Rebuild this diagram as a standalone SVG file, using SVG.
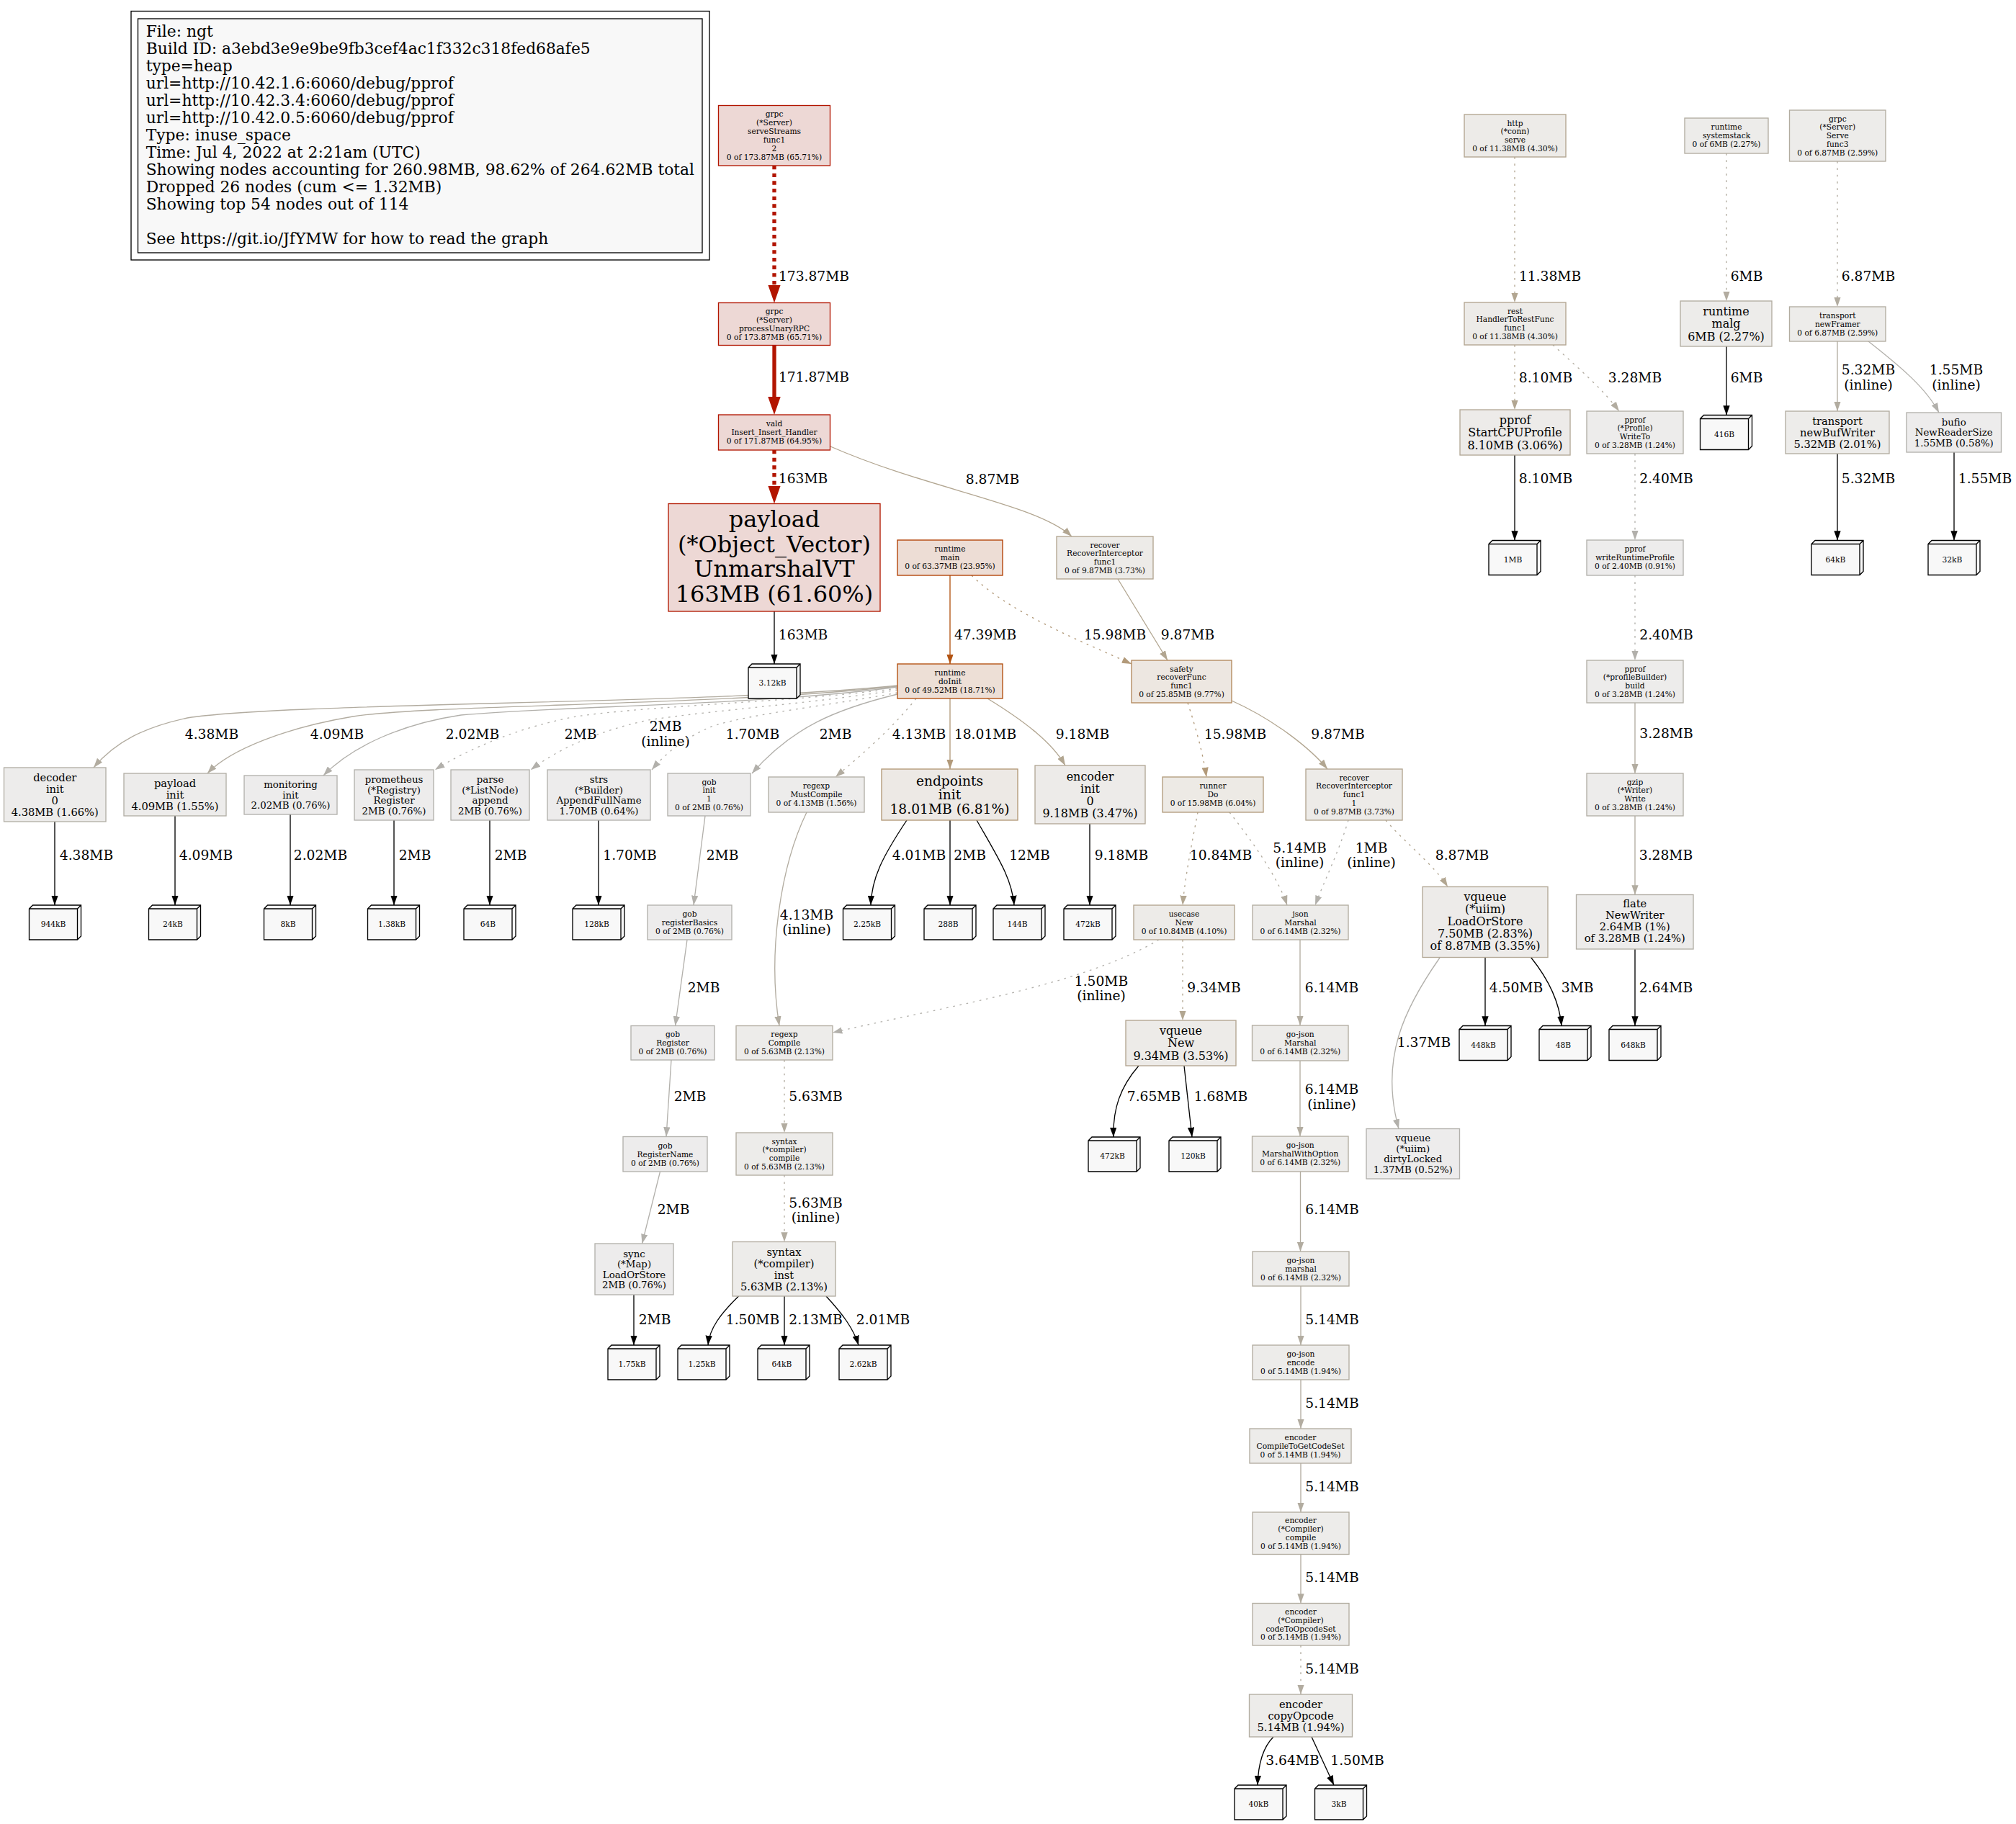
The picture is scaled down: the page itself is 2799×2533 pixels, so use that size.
<svg xmlns="http://www.w3.org/2000/svg" width="2799" height="2533" viewBox="0 0 2799 2533">
<style>
text{font-family:"DejaVu Serif",serif;text-anchor:middle;fill:#000}
.f8{font-size:10.67px}.f10{font-size:13.33px}.f11{font-size:14.67px}.f12{font-size:16px}.f14{font-size:18.67px}.f24{font-size:32px}
.el{font-size:18.67px}
.leg{font-size:21.8px;text-anchor:start}
.node rect{stroke-width:1.33}
.leaf use{fill:#f8f8f8;stroke:#000;stroke-width:1.33}
.c1{fill:#edd8d5;stroke:#b21500}.c2{fill:#edddd5;stroke:#b23e00}.c3{fill:#eddfd6;stroke:#b24d0b}.c4{fill:#ede7e1;stroke:#b2875b}
.c5{fill:#ede9e5;stroke:#b29775}.c6{fill:#edeae5;stroke:#b29b7c}.c7{fill:#edebe8;stroke:#b2a48f}.c8{fill:#edebe9;stroke:#b2a795}
.c9{fill:#edecea;stroke:#b2aca0}.c10{fill:#edeceb;stroke:#b2aea5}.c11{fill:#edecec;stroke:#b2b0ab}
#edges path{fill:none;stroke-width:1.33}
#edges .dot{stroke-dasharray:2.67,6.67}
#edges .thick{stroke-width:5.33}
#edges .thick.dot{stroke-dasharray:5.33,5.33}
.k{stroke:#000}.r{stroke:#b21500}.o{stroke:#b25312}.t{stroke:#b29a7a}.b{stroke:#b2a691}.g{stroke:#b2aca0}.l{stroke:#b2b0ab}
</style>
<defs>
<path id="b3d" d="M0,5l5,-5h67v43l-5,5h-67zM0,5h67v43M67,5l5,-5"/>
<marker id="mR" markerUnits="userSpaceOnUse" markerWidth="25" markerHeight="17.5" viewBox="0 0 25 17.5" refX="0" refY="8.75" orient="auto"><path d="M0,0L25,8.75L0,17.5z" fill="#b21500"/></marker>
<marker id="mK" markerUnits="userSpaceOnUse" markerWidth="13.3" markerHeight="9.33" viewBox="0 0 13.3 9.33" refX="13.3" refY="4.67" orient="auto"><path d="M0,0L13.3,4.67L0,9.33z" fill="#000"/></marker>
<marker id="mO" markerUnits="userSpaceOnUse" markerWidth="13.3" markerHeight="9.33" viewBox="0 0 13.3 9.33" refX="13.3" refY="4.67" orient="auto"><path d="M0,0L13.3,4.67L0,9.33z" fill="#b25312"/></marker>
<marker id="mT" markerUnits="userSpaceOnUse" markerWidth="13.3" markerHeight="9.33" viewBox="0 0 13.3 9.33" refX="13.3" refY="4.67" orient="auto"><path d="M0,0L13.3,4.67L0,9.33z" fill="#b29a7a"/></marker>
<marker id="mB" markerUnits="userSpaceOnUse" markerWidth="13.3" markerHeight="9.33" viewBox="0 0 13.3 9.33" refX="13.3" refY="4.67" orient="auto"><path d="M0,0L13.3,4.67L0,9.33z" fill="#b2a691"/></marker>
<marker id="mG" markerUnits="userSpaceOnUse" markerWidth="13.3" markerHeight="9.33" viewBox="0 0 13.3 9.33" refX="13.3" refY="4.67" orient="auto"><path d="M0,0L13.3,4.67L0,9.33z" fill="#b2aca0"/></marker>
<marker id="mL" markerUnits="userSpaceOnUse" markerWidth="13.3" markerHeight="9.33" viewBox="0 0 13.3 9.33" refX="13.3" refY="4.67" orient="auto"><path d="M0,0L13.3,4.67L0,9.33z" fill="#b2b0ab"/></marker>
</defs>
<rect width="2799" height="2533" fill="#fff"/>

<g id="legend">
<rect x="182" y="15.5" width="803" height="345.5" fill="none" stroke="#000" stroke-width="1.33"/>
<rect x="191.5" y="26" width="783.5" height="325" fill="#f8f8f8" stroke="#000" stroke-width="1.33"/>
<text class="leg"><tspan x="202.7" y="50.5">File: ngt</tspan><tspan x="202.7" y="74.5">Build ID: a3ebd3e9e9be9fb3cef4ac1f332c318fed68afe5</tspan><tspan x="202.7" y="98.5">type=heap</tspan><tspan x="202.7" y="122.5">url=http://10.42.1.6:6060/debug/pprof</tspan><tspan x="202.7" y="146.5">url=http://10.42.3.4:6060/debug/pprof</tspan><tspan x="202.7" y="170.5">url=http://10.42.0.5:6060/debug/pprof</tspan><tspan x="202.7" y="194.5">Type: inuse_space</tspan><tspan x="202.7" y="218.5">Time: Jul 4, 2022 at 2:21am (UTC)</tspan><tspan x="202.7" y="242.5">Showing nodes accounting for 260.98MB, 98.62% of 264.62MB total</tspan><tspan x="202.7" y="266.5">Dropped 26 nodes (cum &lt;= 1.32MB)</tspan><tspan x="202.7" y="290.5">Showing top 54 nodes out of 114</tspan><tspan x="202.7" y="338.5">See https://git.io/JfYMW for how to read the graph</tspan></text>
</g>

<g id="edges">
<path class="r thick dot" d="M1075,230V395.5" marker-end="url(#mR)"/><text class="el" x="1130" y="389.7">173.87MB</text>
<path class="r thick" d="M1075,479.5V551" marker-end="url(#mR)"/><text class="el" x="1130" y="530.2">171.87MB</text>
<path class="r thick dot" d="M1075,625V674.5" marker-end="url(#mR)"/><text class="el" x="1115" y="670.7">163MB</text>
<path class="b" d="M1153,620C1290,680 1440,700 1488,745" marker-end="url(#mB)"/><text class="el" x="1378" y="671.7">8.87MB</text>
<path class="k" d="M1075,849V922" marker-end="url(#mK)"/><text class="el" x="1115" y="887.7">163MB</text>
<path class="o" d="M1319,799V922" marker-end="url(#mO)"/><text class="el" x="1368" y="887.7">47.39MB</text>
<path class="t dot" d="M1349,799C1400,850 1500,890 1571,922" marker-end="url(#mT)"/><text class="el" x="1548" y="887.7">15.98MB</text>
<path class="b" d="M1552,804L1621,917" marker-end="url(#mB)"/><text class="el" x="1649" y="887.7">9.87MB</text>

<path class="g" d="M1246,952C1000,978 400,975 260,997C200,1010 160,1030 130,1066" marker-end="url(#mG)"/><text class="el" x="294" y="1025.7">4.38MB</text>
<path class="g" d="M1246,953C1000,980 600,978 490,995C400,1010 320,1040 288,1074" marker-end="url(#mG)"/><text class="el" x="468" y="1025.7">4.09MB</text>
<path class="l" d="M1246,954C1050,980 780,980 640,993C560,1005 490,1035 449,1077" marker-end="url(#mL)"/><text class="el" x="656" y="1025.7">2.02MB</text>
<path class="l dot" d="M1246,956C1100,975 900,980 800,995C720,1010 650,1040 604,1069" marker-end="url(#mL)"/><text class="el" x="806" y="1025.7">2MB</text>
<path class="l dot" d="M1246,958C1120,978 1000,985 900,1000C830,1015 775,1040 737,1069" marker-end="url(#mL)"/><text class="el" x="924" y="1014.7">2MB</text><text class="el" x="924" y="1035.7">(inline)</text>
<path class="l dot" d="M1246,962C1150,980 1050,990 990,1008C950,1025 925,1045 905,1069" marker-end="url(#mL)"/><text class="el" x="1045" y="1025.7">1.70MB</text>
<path class="l" d="M1246,964C1160,985 1100,1010 1044,1074" marker-end="url(#mL)"/><text class="el" x="1160" y="1025.7">2MB</text>
<path class="g dot" d="M1272,970C1240,1010 1200,1045 1160,1079" marker-end="url(#mG)"/><text class="el" x="1276" y="1025.7">4.13MB</text>
<path class="t" d="M1319,970V1068" marker-end="url(#mT)"/><text class="el" x="1368" y="1025.7">18.01MB</text>
<path class="b" d="M1371,970C1420,1000 1460,1030 1479,1063" marker-end="url(#mB)"/><text class="el" x="1503" y="1025.7">9.18MB</text>
<path class="t dot" d="M1649,976C1660,1010 1670,1045 1675,1079" marker-end="url(#mT)"/><text class="el" x="1715" y="1025.7">15.98MB</text>
<path class="b" d="M1710,973C1770,1000 1820,1040 1843,1068" marker-end="url(#mB)"/><text class="el" x="1857.5" y="1025.7">9.87MB</text>

<path class="k" d="M76,1141V1257" marker-end="url(#mK)"/><text class="el" x="120" y="1193.7">4.38MB</text>
<path class="k" d="M243,1133V1257" marker-end="url(#mK)"/><text class="el" x="286" y="1193.7">4.09MB</text>
<path class="k" d="M403,1131V1257" marker-end="url(#mK)"/><text class="el" x="445" y="1193.7">2.02MB</text>
<path class="k" d="M547,1139V1257" marker-end="url(#mK)"/><text class="el" x="576" y="1193.7">2MB</text>
<path class="k" d="M680,1139V1257" marker-end="url(#mK)"/><text class="el" x="709" y="1193.7">2MB</text>
<path class="k" d="M831,1139V1257" marker-end="url(#mK)"/><text class="el" x="874.5" y="1193.7">1.70MB</text>
<path class="l" d="M979,1133L963,1257" marker-end="url(#mL)"/><text class="el" x="1003" y="1193.7">2MB</text>
<path class="k" d="M1259,1139C1225,1190 1210,1220 1209,1257" marker-end="url(#mK)"/><text class="el" x="1276" y="1193.7">4.01MB</text>
<path class="k" d="M1319,1139V1257" marker-end="url(#mK)"/><text class="el" x="1346.5" y="1193.7">2MB</text>
<path class="k" d="M1356,1139C1385,1190 1405,1220 1408,1257" marker-end="url(#mK)"/><text class="el" x="1429.5" y="1193.7">12MB</text>
<path class="k" d="M1513,1144V1257" marker-end="url(#mK)"/><text class="el" x="1557" y="1193.7">9.18MB</text>
<path class="b dot" d="M1663,1128C1655,1170 1645,1220 1642,1257" marker-end="url(#mB)"/><text class="el" x="1695" y="1193.7">10.84MB</text>
<path class="g dot" d="M1707,1128C1740,1170 1775,1220 1787,1257" marker-end="url(#mG)"/><text class="el" x="1804.5" y="1183.7">5.14MB</text><text class="el" x="1804.5" y="1203.7">(inline)</text>
<path class="l dot" d="M1872,1139C1860,1180 1840,1220 1826,1257" marker-end="url(#mL)"/><text class="el" x="1904" y="1183.7">1MB</text><text class="el" x="1904" y="1203.7">(inline)</text>
<path class="b dot" d="M1924,1139C1950,1170 1990,1200 2010,1231.5" marker-end="url(#mB)"/><text class="el" x="2030" y="1193.7">8.87MB</text>
<path class="g" d="M2270,1133V1242.5" marker-end="url(#mG)"/><text class="el" x="2313" y="1193.7">3.28MB</text>

<path class="g" d="M1120,1128C1085,1200 1065,1320 1082,1424.5" marker-end="url(#mG)"/><text class="el" x="1120" y="1276.7">4.13MB</text><text class="el" x="1120" y="1296.7">(inline)</text>
<path class="l" d="M954,1305L937.5,1424.5" marker-end="url(#mL)"/><text class="el" x="977" y="1377.7">2MB</text>
<path class="l dot" d="M1609,1305C1500,1370 1300,1400 1156,1434" marker-end="url(#mL)"/><text class="el" x="1529" y="1368.7">1.50MB</text><text class="el" x="1529" y="1388.7">(inline)</text>
<path class="b dot" d="M1642,1305V1417" marker-end="url(#mB)"/><text class="el" x="1685.5" y="1377.7">9.34MB</text>
<path class="g" d="M1805,1305V1424" marker-end="url(#mG)"/><text class="el" x="1849" y="1377.7">6.14MB</text>
<path class="k" d="M2062,1329.5V1424.5" marker-end="url(#mK)"/><text class="el" x="2105" y="1377.7">4.50MB</text>
<path class="k" d="M2125.5,1329.5C2150,1360 2165,1390 2168,1424.5" marker-end="url(#mK)"/><text class="el" x="2190" y="1377.7">3MB</text>
<path class="k" d="M2270,1318V1424.5" marker-end="url(#mK)"/><text class="el" x="2313" y="1377.7">2.64MB</text>
<path class="l" d="M1999,1330C1950,1400 1915,1470 1942,1567.5" marker-end="url(#mL)"/><text class="el" x="1977" y="1453.7">1.37MB</text>

<path class="k" d="M1581,1480C1555,1510 1545,1540 1546,1579" marker-end="url(#mK)"/><text class="el" x="1602" y="1528.7">7.65MB</text>
<path class="k" d="M1644,1480L1655,1579" marker-end="url(#mK)"/><text class="el" x="1695" y="1528.7">1.68MB</text>
<path class="l" d="M932,1472L925,1578.5" marker-end="url(#mL)"/><text class="el" x="958" y="1528.7">2MB</text>
<path class="g dot" d="M1089,1472V1573" marker-end="url(#mG)"/><text class="el" x="1132.5" y="1528.7">5.63MB</text>
<path class="g" d="M1805,1473V1578" marker-end="url(#mG)"/><text class="el" x="1849" y="1518.7">6.14MB</text><text class="el" x="1849" y="1539.7">(inline)</text>
<path class="l" d="M916.5,1627L891.5,1727" marker-end="url(#mL)"/><text class="el" x="935" y="1685.7">2MB</text>
<path class="g dot" d="M1089,1632V1724.5" marker-end="url(#mG)"/><text class="el" x="1132.5" y="1676.7">5.63MB</text><text class="el" x="1132.5" y="1696.7">(inline)</text>
<path class="g" d="M1805.5,1627V1738" marker-end="url(#mG)"/><text class="el" x="1849.5" y="1685.7">6.14MB</text>

<path class="k" d="M880,1798V1868" marker-end="url(#mK)"/><text class="el" x="909" y="1838.7">2MB</text>
<path class="k" d="M1025.5,1800C1000,1825 985,1845 983,1868" marker-end="url(#mK)"/><text class="el" x="1045" y="1838.7">1.50MB</text>
<path class="k" d="M1089,1800V1868" marker-end="url(#mK)"/><text class="el" x="1132.5" y="1838.7">2.13MB</text>
<path class="k" d="M1147,1800C1170,1825 1185,1845 1192,1868" marker-end="url(#mK)"/><text class="el" x="1226" y="1838.7">2.01MB</text>
<path class="g" d="M1806,1786V1868" marker-end="url(#mG)"/><text class="el" x="1849.5" y="1838.7">5.14MB</text>
<path class="g" d="M1806,1916V1984" marker-end="url(#mG)"/><text class="el" x="1849.5" y="1954.7">5.14MB</text>
<path class="g" d="M1806,2032V2100" marker-end="url(#mG)"/><text class="el" x="1849.5" y="2070.7">5.14MB</text>
<path class="g" d="M1806,2158.5V2226.5" marker-end="url(#mG)"/><text class="el" x="1849.5" y="2197.2">5.14MB</text>
<path class="g dot" d="M1806,2285V2353" marker-end="url(#mG)"/><text class="el" x="1849.5" y="2323.7">5.14MB</text>
<path class="k" d="M1768,2412C1755,2425 1747,2445 1746,2479" marker-end="url(#mK)"/><text class="el" x="1794.5" y="2450.7">3.64MB</text>
<path class="k" d="M1821,2412L1852,2479" marker-end="url(#mK)"/><text class="el" x="1884.5" y="2450.7">1.50MB</text>

<path class="b dot" d="M2103,218V420" marker-end="url(#mB)"/><text class="el" x="2152" y="389.7">11.38MB</text>
<path class="g dot" d="M2397,213V418" marker-end="url(#mG)"/><text class="el" x="2425" y="389.7">6MB</text>
<path class="g dot" d="M2551,224V426" marker-end="url(#mG)"/><text class="el" x="2594" y="389.7">6.87MB</text>
<path class="b dot" d="M2103,479V569" marker-end="url(#mB)"/><text class="el" x="2146" y="530.7">8.10MB</text>
<path class="g dot" d="M2156,479C2190,510 2225,540 2248,571" marker-end="url(#mG)"/><text class="el" x="2270" y="530.7">3.28MB</text>
<path class="k" d="M2397,481V576.5" marker-end="url(#mK)"/><text class="el" x="2425" y="530.7">6MB</text>
<path class="g" d="M2551,474V571" marker-end="url(#mG)"/><text class="el" x="2594" y="519.7">5.32MB</text><text class="el" x="2594" y="540.7">(inline)</text>
<path class="l" d="M2594,474C2640,510 2675,540 2692,573" marker-end="url(#mL)"/><text class="el" x="2716" y="519.7">1.55MB</text><text class="el" x="2716" y="540.7">(inline)</text>
<path class="k" d="M2103,632V750.5" marker-end="url(#mK)"/><text class="el" x="2146" y="670.7">8.10MB</text>
<path class="l dot" d="M2270,630V750" marker-end="url(#mL)"/><text class="el" x="2313.5" y="670.7">2.40MB</text>
<path class="k" d="M2551,630V750.5" marker-end="url(#mK)"/><text class="el" x="2594" y="670.7">5.32MB</text>
<path class="k" d="M2713,628V750.5" marker-end="url(#mK)"/><text class="el" x="2756" y="670.7">1.55MB</text>
<path class="l dot" d="M2270,799V917" marker-end="url(#mL)"/><text class="el" x="2313.5" y="887.7">2.40MB</text>
<path class="g" d="M2270,976V1074" marker-end="url(#mG)"/><text class="el" x="2313.5" y="1024.7">3.28MB</text>
</g>

<g id="n-serveStreams" class="node"><rect class="c1" x="997.5" y="146.5" width="155" height="83.5"/><text class="f8" y="162.3"><tspan x="1075">grpc</tspan><tspan x="1075" dy="11.9">(*Server)</tspan><tspan x="1075" dy="11.9">serveStreams</tspan><tspan x="1075" dy="11.9">func1</tspan><tspan x="1075" dy="11.9">2</tspan><tspan x="1075" dy="11.9">0 of 173.87MB (65.71%)</tspan></text></g>
<g id="n-processUnaryRPC" class="node"><rect class="c1" x="997.5" y="420.5" width="155" height="59"/><text class="f8" y="436"><tspan x="1075">grpc</tspan><tspan x="1075" dy="11.9">(*Server)</tspan><tspan x="1075" dy="11.9">processUnaryRPC</tspan><tspan x="1075" dy="11.9">0 of 173.87MB (65.71%)</tspan></text></g>
<g id="n-vald" class="node"><rect class="c1" x="997.5" y="576" width="155" height="49"/><text class="f8" y="592.4"><tspan x="1075">vald</tspan><tspan x="1075" dy="11.9">Insert_Insert_Handler</tspan><tspan x="1075" dy="11.9">0 of 171.87MB (64.95%)</tspan></text></g>
<g id="n-UnmarshalVT" class="node"><rect class="c1" x="928" y="699.5" width="294" height="149.5" style="stroke:#b21800"/><text class="f24" y="732"><tspan x="1075">payload</tspan><tspan x="1075" dy="34.5">(*Object_Vector)</tspan><tspan x="1075" dy="34.5">UnmarshalVT</tspan><tspan x="1075" dy="34.5">163MB (61.60%)</tspan></text></g>
<g id="n-main" class="node"><rect class="c2" x="1246" y="750" width="146" height="49"/><text class="f8" y="766.4"><tspan x="1319">runtime</tspan><tspan x="1319" dy="11.9">main</tspan><tspan x="1319" dy="11.9">0 of 63.37MB (23.95%)</tspan></text></g>
<g id="n-recover0" class="node"><rect class="c7" x="1467" y="745" width="134" height="59"/><text class="f8" y="760.5"><tspan x="1534">recover</tspan><tspan x="1534" dy="11.9">RecoverInterceptor</tspan><tspan x="1534" dy="11.9">func1</tspan><tspan x="1534" dy="11.9">0 of 9.87MB (3.73%)</tspan></text></g>
<g id="n-doInit" class="node"><rect class="c3" x="1246" y="922" width="146" height="48"/><text class="f8" y="937.9"><tspan x="1319">runtime</tspan><tspan x="1319" dy="11.9">doInit</tspan><tspan x="1319" dy="11.9">0 of 49.52MB (18.71%)</tspan></text></g>
<g id="n-safety" class="node"><rect class="c4" x="1571" y="917" width="139" height="59"/><text class="f8" y="932.5"><tspan x="1640.5">safety</tspan><tspan x="1640.5" dy="11.9">recoverFunc</tspan><tspan x="1640.5" dy="11.9">func1</tspan><tspan x="1640.5" dy="11.9">0 of 25.85MB (9.77%)</tspan></text></g>
<g id="n-decoder" class="node"><rect class="c10" x="5.5" y="1066" width="141.5" height="75"/><text class="f11" y="1084.8"><tspan x="76.25">decoder</tspan><tspan x="76.25" dy="16">init</tspan><tspan x="76.25" dy="16">0</tspan><tspan x="76.25" dy="16">4.38MB (1.66%)</tspan></text></g>
<g id="n-payloadinit" class="node"><rect class="c10" x="172" y="1074" width="142" height="59"/><text class="f11" y="1092.8"><tspan x="243">payload</tspan><tspan x="243" dy="16">init</tspan><tspan x="243" dy="16">4.09MB (1.55%)</tspan></text></g>
<g id="n-monitoring" class="node"><rect class="c11" x="339" y="1077" width="129" height="54"/><text class="f10" y="1094.3"><tspan x="403.5">monitoring</tspan><tspan x="403.5" dy="14.5">init</tspan><tspan x="403.5" dy="14.5">2.02MB (0.76%)</tspan></text></g>
<g id="n-prometheus" class="node"><rect class="c11" x="492" y="1069" width="110" height="70"/><text class="f10" y="1087"><tspan x="547">prometheus</tspan><tspan x="547" dy="14.5">(*Registry)</tspan><tspan x="547" dy="14.5">Register</tspan><tspan x="547" dy="14.5">2MB (0.76%)</tspan></text></g>
<g id="n-parse" class="node"><rect class="c11" x="626" y="1069" width="109" height="70"/><text class="f10" y="1087"><tspan x="680.5">parse</tspan><tspan x="680.5" dy="14.5">(*ListNode)</tspan><tspan x="680.5" dy="14.5">append</tspan><tspan x="680.5" dy="14.5">2MB (0.76%)</tspan></text></g>
<g id="n-strs" class="node"><rect class="c11" x="760" y="1069" width="143" height="70"/><text class="f10" y="1087"><tspan x="831.5">strs</tspan><tspan x="831.5" dy="14.5">(*Builder)</tspan><tspan x="831.5" dy="14.5">AppendFullName</tspan><tspan x="831.5" dy="14.5">1.70MB (0.64%)</tspan></text></g>
<g id="n-gobinit" class="node"><rect class="c11" x="927" y="1074" width="115" height="59"/><text class="f8" y="1089.5"><tspan x="984.5">gob</tspan><tspan x="984.5" dy="11.9">init</tspan><tspan x="984.5" dy="11.9">1</tspan><tspan x="984.5" dy="11.9">0 of 2MB (0.76%)</tspan></text></g>
<g id="n-MustCompile" class="node"><rect class="c10" x="1067" y="1079" width="133" height="49"/><text class="f8" y="1095.4"><tspan x="1133.5">regexp</tspan><tspan x="1133.5" dy="11.9">MustCompile</tspan><tspan x="1133.5" dy="11.9">0 of 4.13MB (1.56%)</tspan></text></g>
<g id="n-endpoints" class="node"><rect class="c5" x="1224" y="1068" width="189" height="71"/><text class="f14" y="1090.6"><tspan x="1318.5">endpoints</tspan><tspan x="1318.5" dy="19.6">init</tspan><tspan x="1318.5" dy="19.6">18.01MB (6.81%)</tspan></text></g>
<g id="n-encoderinit" class="node"><rect class="c8" x="1437" y="1063" width="153" height="81"/><text class="f12" y="1083.5"><tspan x="1513.5">encoder</tspan><tspan x="1513.5" dy="17.2">init</tspan><tspan x="1513.5" dy="17.2">0</tspan><tspan x="1513.5" dy="17.2">9.18MB (3.47%)</tspan></text></g>
<g id="n-runner" class="node"><rect class="c6" x="1614" y="1079" width="140" height="49"/><text class="f8" y="1095.4"><tspan x="1684">runner</tspan><tspan x="1684" dy="11.9">Do</tspan><tspan x="1684" dy="11.9">0 of 15.98MB (6.04%)</tspan></text></g>
<g id="n-recover1" class="node"><rect class="c7" x="1813" y="1068" width="134" height="71"/><text class="f8" y="1083.5"><tspan x="1880">recover</tspan><tspan x="1880" dy="11.9">RecoverInterceptor</tspan><tspan x="1880" dy="11.9">func1</tspan><tspan x="1880" dy="11.9">1</tspan><tspan x="1880" dy="11.9">0 of 9.87MB (3.73%)</tspan></text></g>
<g id="n-registerBasics" class="node"><rect class="c11" x="899" y="1257" width="117" height="48"/><text class="f8" y="1272.9"><tspan x="957.5">gob</tspan><tspan x="957.5" dy="11.9">registerBasics</tspan><tspan x="957.5" dy="11.9">0 of 2MB (0.76%)</tspan></text></g>
<g id="n-usecase" class="node"><rect class="c7" x="1574" y="1257" width="140" height="48"/><text class="f8" y="1272.9"><tspan x="1644">usecase</tspan><tspan x="1644" dy="11.9">New</tspan><tspan x="1644" dy="11.9">0 of 10.84MB (4.10%)</tspan></text></g>
<g id="n-jsonMarshal" class="node"><rect class="c9" x="1739" y="1257" width="133" height="48"/><text class="f8" y="1272.9"><tspan x="1805.5">json</tspan><tspan x="1805.5" dy="11.9">Marshal</tspan><tspan x="1805.5" dy="11.9">0 of 6.14MB (2.32%)</tspan></text></g>
<g id="n-LoadOrStore" class="node"><rect class="c8" x="1975" y="1231.5" width="174" height="98"/><text class="f12" y="1250.5"><tspan x="2062">vqueue</tspan><tspan x="2062" dy="17.1">(*uiim)</tspan><tspan x="2062" dy="17.1">LoadOrStore</tspan><tspan x="2062" dy="17.1">7.50MB (2.83%)</tspan><tspan x="2062" dy="17.1">of 8.87MB (3.35%)</tspan></text></g>
<g id="n-flate" class="node"><rect class="c10" x="2188.5" y="1242.5" width="162.5" height="75.5"/><text class="f11" y="1260.2"><tspan x="2269.75">flate</tspan><tspan x="2269.75" dy="16">NewWriter</tspan><tspan x="2269.75" dy="16">2.64MB (1%)</tspan><tspan x="2269.75" dy="16">of 3.28MB (1.24%)</tspan></text></g>
<g id="n-gobRegister" class="node"><rect class="c11" x="876" y="1424.5" width="116" height="47.5"/><text class="f8" y="1440.2"><tspan x="934">gob</tspan><tspan x="934" dy="11.9">Register</tspan><tspan x="934" dy="11.9">0 of 2MB (0.76%)</tspan></text></g>
<g id="n-regexpCompile" class="node"><rect class="c9" x="1022" y="1424.5" width="134" height="47.5"/><text class="f8" y="1440.2"><tspan x="1089">regexp</tspan><tspan x="1089" dy="11.9">Compile</tspan><tspan x="1089" dy="11.9">0 of 5.63MB (2.13%)</tspan></text></g>
<g id="n-vqueueNew" class="node"><rect class="c7" x="1563" y="1417" width="153" height="63"/><text class="f12" y="1437.1"><tspan x="1639.5">vqueue</tspan><tspan x="1639.5" dy="17.2">New</tspan><tspan x="1639.5" dy="17.2">9.34MB (3.53%)</tspan></text></g>
<g id="n-gojsonMarshal" class="node"><rect class="c9" x="1738.5" y="1424" width="133.5" height="49"/><text class="f8" y="1440.4"><tspan x="1805.25">go-json</tspan><tspan x="1805.25" dy="11.9">Marshal</tspan><tspan x="1805.25" dy="11.9">0 of 6.14MB (2.32%)</tspan></text></g>
<g id="n-RegisterName" class="node"><rect class="c11" x="865" y="1578.5" width="117" height="48.5"/><text class="f8" y="1594.7"><tspan x="923.5">gob</tspan><tspan x="923.5" dy="11.9">RegisterName</tspan><tspan x="923.5" dy="11.9">0 of 2MB (0.76%)</tspan></text></g>
<g id="n-syntaxCompile" class="node"><rect class="c9" x="1022" y="1573" width="134" height="59"/><text class="f8" y="1588.5"><tspan x="1089">syntax</tspan><tspan x="1089" dy="11.9">(*compiler)</tspan><tspan x="1089" dy="11.9">compile</tspan><tspan x="1089" dy="11.9">0 of 5.63MB (2.13%)</tspan></text></g>
<g id="n-MarshalWithOption" class="node"><rect class="c9" x="1738.5" y="1578" width="133.5" height="49"/><text class="f8" y="1594.4"><tspan x="1805.25">go-json</tspan><tspan x="1805.25" dy="11.9">MarshalWithOption</tspan><tspan x="1805.25" dy="11.9">0 of 6.14MB (2.32%)</tspan></text></g>
<g id="n-dirtyLocked" class="node"><rect class="c11" x="1897" y="1567.5" width="129.5" height="69.5"/><text class="f10" y="1585.3"><tspan x="1961.75">vqueue</tspan><tspan x="1961.75" dy="14.5">(*uiim)</tspan><tspan x="1961.75" dy="14.5">dirtyLocked</tspan><tspan x="1961.75" dy="14.5">1.37MB (0.52%)</tspan></text></g>
<g id="n-syncMap" class="node"><rect class="c11" x="826" y="1727" width="109" height="71"/><text class="f10" y="1745.5"><tspan x="880.5">sync</tspan><tspan x="880.5" dy="14.5">(*Map)</tspan><tspan x="880.5" dy="14.5">LoadOrStore</tspan><tspan x="880.5" dy="14.5">2MB (0.76%)</tspan></text></g>
<g id="n-syntaxInst" class="node"><rect class="c9" x="1017" y="1724.5" width="143" height="75.5"/><text class="f11" y="1743.5"><tspan x="1088.5">syntax</tspan><tspan x="1088.5" dy="16">(*compiler)</tspan><tspan x="1088.5" dy="16">inst</tspan><tspan x="1088.5" dy="16">5.63MB (2.13%)</tspan></text></g>
<g id="n-gojsonmarshal" class="node"><rect class="c9" x="1739" y="1738" width="134" height="48"/><text class="f8" y="1753.9"><tspan x="1806">go-json</tspan><tspan x="1806" dy="11.9">marshal</tspan><tspan x="1806" dy="11.9">0 of 6.14MB (2.32%)</tspan></text></g>
<g id="n-gojsonencode" class="node"><rect class="c9" x="1739" y="1868" width="134" height="48"/><text class="f8" y="1883.9"><tspan x="1806">go-json</tspan><tspan x="1806" dy="11.9">encode</tspan><tspan x="1806" dy="11.9">0 of 5.14MB (1.94%)</tspan></text></g>
<g id="n-CompileToGetCodeSet" class="node"><rect class="c9" x="1735" y="1984" width="141" height="48"/><text class="f8" y="1999.9"><tspan x="1805.5">encoder</tspan><tspan x="1805.5" dy="11.9">CompileToGetCodeSet</tspan><tspan x="1805.5" dy="11.9">0 of 5.14MB (1.94%)</tspan></text></g>
<g id="n-encCompile" class="node"><rect class="c9" x="1739" y="2100" width="134" height="58.5"/><text class="f8" y="2115.2"><tspan x="1806">encoder</tspan><tspan x="1806" dy="11.9">(*Compiler)</tspan><tspan x="1806" dy="11.9">compile</tspan><tspan x="1806" dy="11.9">0 of 5.14MB (1.94%)</tspan></text></g>
<g id="n-codeToOpcodeSet" class="node"><rect class="c9" x="1739" y="2226.5" width="134" height="58.5"/><text class="f8" y="2241.7"><tspan x="1806">encoder</tspan><tspan x="1806" dy="11.9">(*Compiler)</tspan><tspan x="1806" dy="11.9">codeToOpcodeSet</tspan><tspan x="1806" dy="11.9">0 of 5.14MB (1.94%)</tspan></text></g>
<g id="n-copyOpcode" class="node"><rect class="c9" x="1734.5" y="2353" width="143" height="59"/><text class="f11" y="2371.8"><tspan x="1806">encoder</tspan><tspan x="1806" dy="16">copyOpcode</tspan><tspan x="1806" dy="16">5.14MB (1.94%)</tspan></text></g>
<g id="n-httpServe" class="node"><rect class="c7" x="2033" y="159" width="141" height="59"/><text class="f8" y="174.5"><tspan x="2103.5">http</tspan><tspan x="2103.5" dy="11.9">(*conn)</tspan><tspan x="2103.5" dy="11.9">serve</tspan><tspan x="2103.5" dy="11.9">0 of 11.38MB (4.30%)</tspan></text></g>
<g id="n-systemstack" class="node"><rect class="c9" x="2339" y="164" width="116" height="49"/><text class="f8" y="180.4"><tspan x="2397">runtime</tspan><tspan x="2397" dy="11.9">systemstack</tspan><tspan x="2397" dy="11.9">0 of 6MB (2.27%)</tspan></text></g>
<g id="n-ServeFunc3" class="node"><rect class="c9" x="2484.5" y="153" width="133.5" height="71"/><text class="f8" y="168.5"><tspan x="2551.25">grpc</tspan><tspan x="2551.25" dy="11.9">(*Server)</tspan><tspan x="2551.25" dy="11.9">Serve</tspan><tspan x="2551.25" dy="11.9">func3</tspan><tspan x="2551.25" dy="11.9">0 of 6.87MB (2.59%)</tspan></text></g>
<g id="n-rest" class="node"><rect class="c7" x="2033" y="420" width="141" height="59"/><text class="f8" y="435.5"><tspan x="2103.5">rest</tspan><tspan x="2103.5" dy="11.9">HandlerToRestFunc</tspan><tspan x="2103.5" dy="11.9">func1</tspan><tspan x="2103.5" dy="11.9">0 of 11.38MB (4.30%)</tspan></text></g>
<g id="n-malg" class="node"><rect class="c9" x="2333" y="418" width="127" height="63"/><text class="f12" y="438.1"><tspan x="2396.5">runtime</tspan><tspan x="2396.5" dy="17.2">malg</tspan><tspan x="2396.5" dy="17.2">6MB (2.27%)</tspan></text></g>
<g id="n-newFramer" class="node"><rect class="c9" x="2484.5" y="426" width="133.5" height="48"/><text class="f8" y="441.9"><tspan x="2551.25">transport</tspan><tspan x="2551.25" dy="11.9">newFramer</tspan><tspan x="2551.25" dy="11.9">0 of 6.87MB (2.59%)</tspan></text></g>
<g id="n-StartCPUProfile" class="node"><rect class="c8" x="2027" y="569" width="153" height="63"/><text class="f12" y="589.1"><tspan x="2103.5">pprof</tspan><tspan x="2103.5" dy="17.2">StartCPUProfile</tspan><tspan x="2103.5" dy="17.2">8.10MB (3.06%)</tspan></text></g>
<g id="n-WriteTo" class="node"><rect class="c10" x="2203" y="571" width="134" height="59"/><text class="f8" y="586.5"><tspan x="2270">pprof</tspan><tspan x="2270" dy="11.9">(*Profile)</tspan><tspan x="2270" dy="11.9">WriteTo</tspan><tspan x="2270" dy="11.9">0 of 3.28MB (1.24%)</tspan></text></g>
<g id="n-newBufWriter" class="node"><rect class="c9" x="2479" y="571" width="144" height="59"/><text class="f11" y="589.8"><tspan x="2551">transport</tspan><tspan x="2551" dy="16">newBufWriter</tspan><tspan x="2551" dy="16">5.32MB (2.01%)</tspan></text></g>
<g id="n-bufio" class="node"><rect class="c11" x="2647" y="573" width="131.5" height="55"/><text class="f10" y="590.8"><tspan x="2712.75">bufio</tspan><tspan x="2712.75" dy="14.5">NewReaderSize</tspan><tspan x="2712.75" dy="14.5">1.55MB (0.58%)</tspan></text></g>
<g id="n-writeRuntimeProfile" class="node"><rect class="c11" x="2203" y="750" width="134" height="49"/><text class="f8" y="766.4"><tspan x="2270">pprof</tspan><tspan x="2270" dy="11.9">writeRuntimeProfile</tspan><tspan x="2270" dy="11.9">0 of 2.40MB (0.91%)</tspan></text></g>
<g id="n-build" class="node"><rect class="c10" x="2203" y="917" width="134" height="59"/><text class="f8" y="932.5"><tspan x="2270">pprof</tspan><tspan x="2270" dy="11.9">(*profileBuilder)</tspan><tspan x="2270" dy="11.9">build</tspan><tspan x="2270" dy="11.9">0 of 3.28MB (1.24%)</tspan></text></g>
<g id="n-gzip" class="node"><rect class="c10" x="2203" y="1074" width="134" height="59"/><text class="f8" y="1089.5"><tspan x="2270">gzip</tspan><tspan x="2270" dy="11.9">(*Writer)</tspan><tspan x="2270" dy="11.9">Write</tspan><tspan x="2270" dy="11.9">0 of 3.28MB (1.24%)</tspan></text></g>

<g id="l-3.12kB" class="leaf"><use href="#b3d" x="1039" y="922"/><text class="f8" x="1072.5" y="952.3">3.12kB</text></g>
<g id="l-944kB" class="leaf"><use href="#b3d" x="40.5" y="1257"/><text class="f8" x="74" y="1287.3">944kB</text></g>
<g id="l-24kB" class="leaf"><use href="#b3d" x="206.5" y="1257"/><text class="f8" x="240" y="1287.3">24kB</text></g>
<g id="l-8kB" class="leaf"><use href="#b3d" x="366.5" y="1257"/><text class="f8" x="400" y="1287.3">8kB</text></g>
<g id="l-1.38kB" class="leaf"><use href="#b3d" x="510.5" y="1257"/><text class="f8" x="544" y="1287.3">1.38kB</text></g>
<g id="l-64B" class="leaf"><use href="#b3d" x="644" y="1257"/><text class="f8" x="677.5" y="1287.3">64B</text></g>
<g id="l-128kB" class="leaf"><use href="#b3d" x="795" y="1257"/><text class="f8" x="828.5" y="1287.3">128kB</text></g>
<g id="l-2.25kB" class="leaf"><use href="#b3d" x="1170.5" y="1257"/><text class="f8" x="1204" y="1287.3">2.25kB</text></g>
<g id="l-288B" class="leaf"><use href="#b3d" x="1283" y="1257"/><text class="f8" x="1316.5" y="1287.3">288B</text></g>
<g id="l-144B" class="leaf"><use href="#b3d" x="1379" y="1257"/><text class="f8" x="1412.5" y="1287.3">144B</text></g>
<g id="l-472kB-a" class="leaf"><use href="#b3d" x="1477" y="1257"/><text class="f8" x="1510.5" y="1287.3">472kB</text></g>
<g id="l-448kB" class="leaf"><use href="#b3d" x="2026" y="1424.5"/><text class="f8" x="2059.5" y="1454.8">448kB</text></g>
<g id="l-48B" class="leaf"><use href="#b3d" x="2137" y="1424.5"/><text class="f8" x="2170.5" y="1454.8">48B</text></g>
<g id="l-648kB" class="leaf"><use href="#b3d" x="2234" y="1424.5"/><text class="f8" x="2267.5" y="1454.8">648kB</text></g>
<g id="l-472kB-b" class="leaf"><use href="#b3d" x="1511" y="1579"/><text class="f8" x="1544.5" y="1609.3">472kB</text></g>
<g id="l-120kB" class="leaf"><use href="#b3d" x="1623" y="1579"/><text class="f8" x="1656.5" y="1609.3">120kB</text></g>
<g id="l-1.75kB" class="leaf"><use href="#b3d" x="844" y="1868"/><text class="f8" x="877.5" y="1898.3">1.75kB</text></g>
<g id="l-1.25kB" class="leaf"><use href="#b3d" x="941" y="1868"/><text class="f8" x="974.5" y="1898.3">1.25kB</text></g>
<g id="l-64kB-a" class="leaf"><use href="#b3d" x="1052" y="1868"/><text class="f8" x="1085.5" y="1898.3">64kB</text></g>
<g id="l-2.62kB" class="leaf"><use href="#b3d" x="1165" y="1868"/><text class="f8" x="1198.5" y="1898.3">2.62kB</text></g>
<g id="l-40kB" class="leaf"><use href="#b3d" x="1714" y="2479"/><text class="f8" x="1747.5" y="2509.3">40kB</text></g>
<g id="l-3kB" class="leaf"><use href="#b3d" x="1825.5" y="2479"/><text class="f8" x="1859" y="2509.3">3kB</text></g>
<g id="l-416B" class="leaf"><use href="#b3d" x="2360.5" y="576.5"/><text class="f8" x="2394" y="606.8">416B</text></g>
<g id="l-1MB" class="leaf"><use href="#b3d" x="2067" y="750.5"/><text class="f8" x="2100.5" y="780.8">1MB</text></g>
<g id="l-64kB-b" class="leaf"><use href="#b3d" x="2515" y="750.5"/><text class="f8" x="2548.5" y="780.8">64kB</text></g>
<g id="l-32kB" class="leaf"><use href="#b3d" x="2677" y="750.5"/><text class="f8" x="2710.5" y="780.8">32kB</text></g>
</svg>
